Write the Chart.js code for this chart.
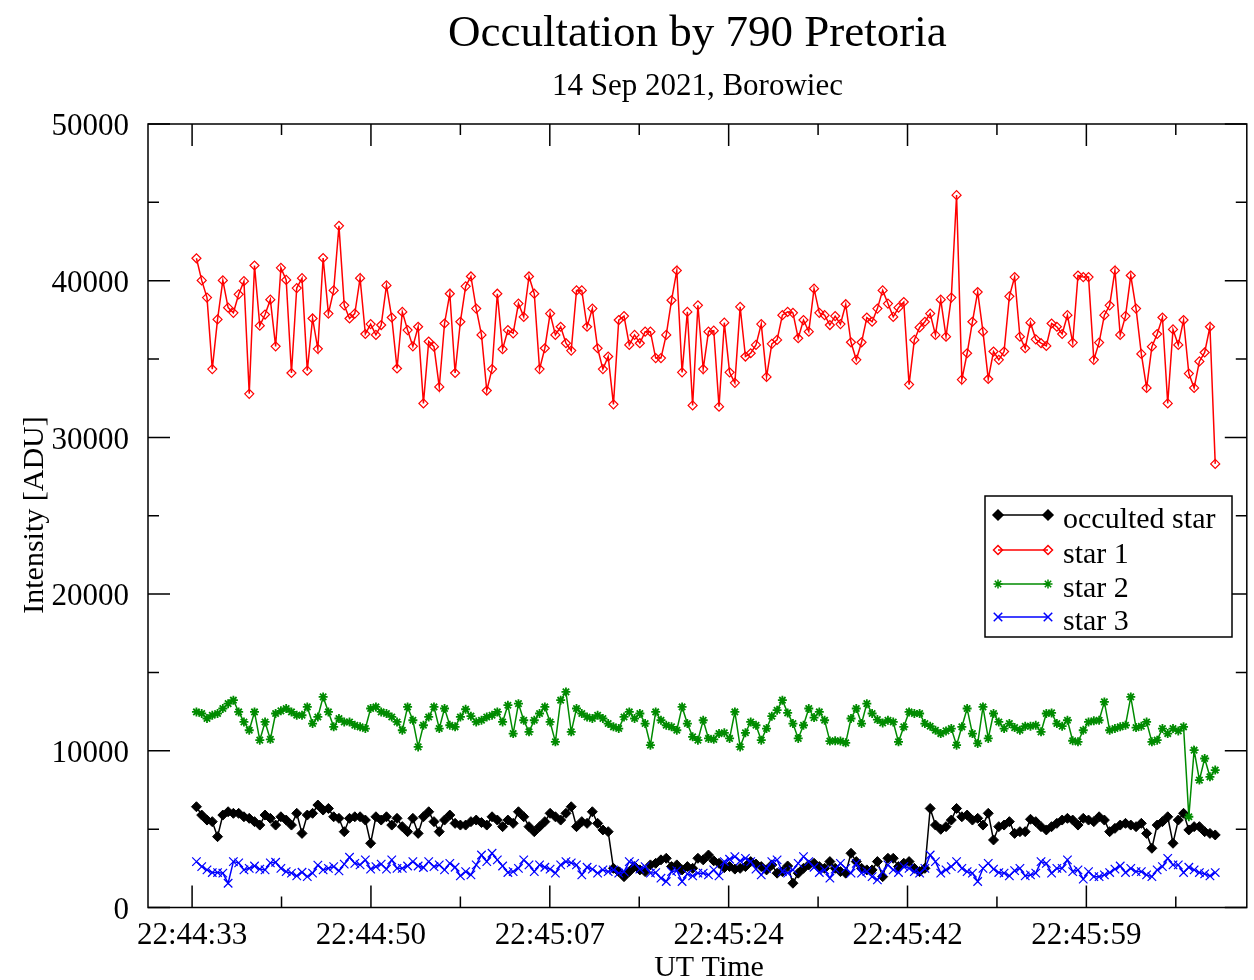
<!DOCTYPE html>
<html>
<head>
<meta charset="utf-8">
<script src="https://cdn.jsdelivr.net/npm/chart.js@4.4.1/dist/chart.umd.min.js"></script>
<style>
  html, body { margin: 0; padding: 0; background: #fff; }
</style>
</head>
<body>
<canvas id="myChart" width="1254" height="980"></canvas>
<script>
// time axis in UT seconds since midnight, one frame every ~0.51 s
var t0 = 81873.06;
var dt = 0.51;

var occulted = [
  6430, 5900, 5580, 5480, 4520, 5900, 6110, 6010, 6010, 5790,
  5690, 5480, 5260, 5900, 5690, 5260, 5790, 5580, 5260, 6010,
  4730, 5900, 6010, 6540, 6220, 6320, 5790, 5690, 4840, 5690,
  5790, 5790, 5580, 4100, 5790, 5580, 5790, 5260, 5690, 5160,
  4840, 5690, 4730, 5790, 6110, 5480, 4840, 5580, 5900, 5370,
  5260, 5260, 5480, 5580, 5420, 5260, 5790, 5580, 5160, 5580,
  5370, 6110, 5790, 5160, 4840, 5160, 5480, 6010, 5790, 5580,
  6010, 6430, 5160, 5480, 5370, 6110, 5370, 4950, 4840, 2500,
  2290, 1970, 2290, 2610, 2400, 2290, 2720, 2820, 3040, 3140,
  2610, 2720, 2400, 2610, 2500, 3140, 3040, 3350, 2980, 2820,
  2540, 2610, 2450, 2500, 2610, 2930, 2770, 2610, 2400, 2720,
  2190, 2290, 2650, 1550, 2190, 2500, 2720, 2820, 2610, 2500,
  2930, 2500, 2290, 2190, 3460, 2930, 2500, 2400, 2400, 2930,
  1970, 3140, 3140, 2610, 2820, 2930, 2500, 2290, 2500, 6320,
  5260, 4990, 5160, 5580, 6320, 5790, 5900, 5580, 5690, 5260,
  6010, 4310, 5160, 5260, 5480, 4730, 4840, 4840, 5630, 5480,
  5160, 4950, 5160, 5370, 5580, 5690, 5580, 5260, 5690, 5580,
  5480, 5790, 5580, 4840, 5050, 5260, 5370, 5260, 5160, 5370,
  4730, 3780, 5260, 5480, 5790, 4100, 5580, 6010, 4950, 5160,
  5160, 4840, 4730, 4630
];

var star1 = [
  41430, 40020, 38920, 34360, 37530, 40020, 38280, 37950, 39130, 39970,
  32780, 40970, 37130, 37840, 38790, 35810, 40820, 40050, 34110, 39530,
  40160, 34260, 37590, 35650, 41450, 37900, 39380, 43500, 38430, 37590,
  37900, 40160, 36600, 37230, 36540, 37170, 39700, 37650, 34400, 38010,
  36850, 35810, 37060, 32170, 36120, 35790, 33220, 37270, 39170, 34110,
  37380, 39640, 40270, 38220, 36540, 32990, 34360, 39170, 35630, 36850,
  36640, 38540, 37690, 40270, 39170, 34360, 35690, 37900, 36540, 37060,
  36010, 35540, 39380, 39380, 37060, 38220, 35690, 34360, 35160, 32110,
  37490, 37740, 35900, 36540, 36010, 36750, 36750, 35060, 35060, 36540,
  38750, 40650, 34150, 38010, 32040, 38430, 34360, 36750, 36810, 31960,
  37320, 34150, 33480, 38330, 35160, 35370, 35900, 37230, 33860, 35970,
  36220, 37800, 38010, 37950, 36330, 37490, 36750, 39490, 37950, 37800,
  37170, 37740, 37230, 38500, 36070, 34950, 36070, 37650, 37380, 38220,
  39380, 38540, 37690, 38280, 38640, 33370, 36220, 37020, 37380, 37900,
  36540, 38790, 36430, 38920, 45460, 33690, 35370, 37380, 39280, 36750,
  33730, 35480, 34950, 35480, 39000, 40230, 36430, 35690, 37320, 36260,
  36010, 35840, 37270, 37060, 36600, 37800, 36050, 40330, 40230, 40230,
  34950, 36050, 37800, 38430, 40650, 36540, 37740, 40330, 38220, 35330,
  33160, 35790, 36600, 37650, 32170, 36890, 35900, 37490, 34070, 33160,
  34850, 35420, 37060, 28310
];

var star2 = [
  12480, 12380, 12060, 12270, 12380, 12700, 13010, 13230, 12480, 11840,
  11310, 12480, 10680, 11840, 10730, 12380, 12550, 12700, 12480, 12270,
  12270, 12800, 11740, 12160, 13440, 12480, 11530, 12060, 11840, 11840,
  11630, 11530, 11420, 12700, 12800, 12480, 12380, 12160, 11840, 11310,
  12800, 11950, 10250, 11630, 12160, 12800, 11420, 12700, 11630, 11530,
  12160, 12650, 12210, 11840, 11950, 12160, 12270, 12480, 11840, 12910,
  11100, 13010, 11950, 11210, 11950, 12380, 12800, 11840, 10570, 13230,
  13760, 11210, 12700, 12380, 12160, 12060, 12270, 12060, 11740, 11530,
  11420, 12160, 12480, 12060, 12380, 11740, 10360, 12480, 11950, 11630,
  11530, 11310, 12800, 11740, 10890, 10680, 11950, 10790, 10730, 11100,
  11150, 10790, 12480, 10250, 11150, 11840, 11630, 10680, 11420, 12210,
  12590, 13230, 12420, 11740, 10790, 11630, 12700, 12120, 12480, 11950,
  10620, 10640, 10620, 10510, 12060, 12700, 11740, 13010, 12380, 11990,
  11780, 11950, 11840, 10570, 11530, 12480, 12380, 12380, 11740, 11570,
  11310, 11100, 11270, 11420, 10360, 11530, 12700, 11100, 10470, 12800,
  10790, 12380, 11840, 11420, 11740, 11480, 11310, 11570, 11570, 11630,
  11210, 12380, 12420, 11740, 11570, 11950, 10640, 10570, 11310, 11840,
  11910, 11950, 13120, 11310, 11420, 11530, 11630, 13440, 11480, 11570,
  11840, 10570, 10680, 11420, 11100, 11420, 11270, 11530, 5790, 10040,
  8130, 9510, 8340, 8770
];

var star3 = [
  2930, 2610, 2400, 2230, 2230, 2190, 1550, 2930, 2850, 2400,
  2500, 2650, 2450, 2400, 2850, 2890, 2500, 2290, 2190, 2020,
  2250, 1970, 2190, 2700, 2400, 2500, 2610, 2340, 2770, 3210,
  2820, 2720, 3040, 2450, 2610, 2770, 2450, 3040, 2500, 2500,
  2650, 2930, 2650, 2550, 2930, 2610, 2720, 2400, 2820, 2570,
  2020, 2290, 2080, 2720, 3350, 2930, 3460, 3040, 2650, 2230,
  2290, 2500, 3040, 2720, 2290, 2720, 2570, 2450, 2190, 2720,
  2930, 2850, 2720, 2080, 2570, 2450, 2190, 2400, 2290, 2400,
  2190, 2290, 2930, 2820, 2450, 2610, 2190, 2230, 1870, 1660,
  2290, 2350, 1660, 2150, 2020, 2190, 2190, 2080, 2400, 2020,
  2930, 3080, 3250, 2970, 3140, 2930, 2450, 2080, 2500, 2930,
  3040, 2290, 2190, 2400, 2820, 3250, 2930, 2570, 2230, 2400,
  1870, 2450, 2820, 2500, 2190, 2820, 2190, 2290, 1970, 1760,
  2290, 2720, 2400, 2230, 2610, 2500, 2290, 2190, 2500, 3350,
  2930, 2190, 2400, 2610, 2930, 2500, 2290, 2190, 1660, 2500,
  2820, 2450, 2230, 2190, 2020, 2350, 2500, 2020, 2080, 2190,
  2930, 2820, 2190, 2500, 2500, 3040, 2290, 2400, 1810, 2290,
  1970, 1970, 2080, 2230, 2450, 2650, 2230, 2500, 2290, 2290,
  2080, 1970, 2400, 2610, 3140, 2720, 2720, 2230, 2570, 2400,
  2230, 2150, 2020, 2230
];

// axis ticks (x ticks every 0.0002 day = 17.28 s)
var yTicks = [0, 10000, 20000, 30000, 40000, 50000];
var yMinor = [5000, 15000, 25000, 35000, 45000];
var xTicks = [81872.64, 81889.92, 81907.2, 81924.48, 81941.76, 81959.04];
var xMinor = [81881.28, 81898.56, 81915.84, 81933.12, 81950.4, 81967.68];

var times = star1.map(function (v, i) { return t0 + i * dt; });
function pts(arr) {
  return arr.map(function (v, i) { return { x: times[i], y: v }; });
}

function hms(s) {
  s = Math.round(s);
  var h = Math.floor(s / 3600), m = Math.floor((s % 3600) / 60), sec = s % 60;
  return [h, m, sec].map(function (n) { return (n < 10 ? '0' : '') + n; }).join(':');
}

var serif = '"Liberation Serif", "DejaVu Serif", serif';
var green = '#008b00';

function marker(ctx, style, x, y, r, color, fill) {
  ctx.strokeStyle = color;
  ctx.fillStyle = fill;
  ctx.beginPath();
  if (style === 'rectRot') {
    ctx.moveTo(x - r, y); ctx.lineTo(x, y - r); ctx.lineTo(x + r, y); ctx.lineTo(x, y + r);
    ctx.closePath();
    ctx.fill();
  } else if (style === 'star') {
    var d = r * Math.SQRT1_2;
    ctx.moveTo(x - r, y); ctx.lineTo(x + r, y); ctx.moveTo(x, y - r); ctx.lineTo(x, y + r);
    ctx.moveTo(x - d, y - d); ctx.lineTo(x + d, y + d); ctx.moveTo(x - d, y + d); ctx.lineTo(x + d, y - d);
  } else {
    var c = r * Math.SQRT1_2;
    ctx.moveTo(x - c, y - c); ctx.lineTo(x + c, y + c); ctx.moveTo(x - c, y + c); ctx.lineTo(x + c, y - c);
  }
  ctx.stroke();
}

var decor = {
  id: 'decor',
  afterDraw: function (chart) {
    var ctx = chart.ctx, a = chart.chartArea;
    var xs = chart.scales.x, ys = chart.scales.y;
    ctx.save();
    ctx.strokeStyle = '#000';
    ctx.lineWidth = 1.5;
    ctx.strokeRect(a.left, a.top, a.right - a.left, a.bottom - a.top);

    ctx.beginPath();
    function xt(vals, len) {
      vals.forEach(function (v) {
        var p = xs.getPixelForValue(v);
        ctx.moveTo(p, a.bottom); ctx.lineTo(p, a.bottom - len);
        ctx.moveTo(p, a.top); ctx.lineTo(p, a.top + len);
      });
    }
    function yt(vals, len) {
      vals.forEach(function (v) {
        var p = ys.getPixelForValue(v);
        ctx.moveTo(a.left, p); ctx.lineTo(a.left + len, p);
        ctx.moveTo(a.right, p); ctx.lineTo(a.right - len, p);
      });
    }
    xt(xTicks, 22); xt(xMinor, 11);
    yt(yTicks, 22); yt(yMinor, 11);
    ctx.stroke();

    // titles
    var cx = (a.left + a.right) / 2;
    ctx.fillStyle = '#000';
    ctx.textAlign = 'center';
    ctx.textBaseline = 'alphabetic';
    ctx.font = '45px ' + serif;
    ctx.fillText('Occultation by 790 Pretoria', cx, 46);
    ctx.font = '31px ' + serif;
    ctx.fillText('14 Sep 2021, Borowiec', cx, 95);
    ctx.font = '30px ' + serif;
    ctx.fillText('UT Time', 709, 976);
    ctx.save();
    ctx.translate(43, 515);
    ctx.rotate(-Math.PI / 2);
    ctx.fillText('Intensity [ADU]', 0, 0);
    ctx.restore();

    // legend
    var bx = 985, by = 496, bw = 247, bh = 141;
    ctx.fillStyle = '#fff';
    ctx.fillRect(bx, by, bw, bh);
    ctx.strokeStyle = '#000';
    ctx.lineWidth = 1.5;
    ctx.strokeRect(bx, by, bw, bh);
    var rows = [515, 550, 584, 617];
    chart.data.datasets.forEach(function (ds, i) {
      var y = rows[i];
      ctx.lineWidth = 1.5;
      ctx.strokeStyle = ds.borderColor;
      ctx.beginPath();
      ctx.moveTo(998, y); ctx.lineTo(1048, y);
      ctx.stroke();
      var fill = ds.pointBackgroundColor;
      marker(ctx, ds.pointStyle, 998, y, ds.pointRadius, ds.borderColor, fill);
      marker(ctx, ds.pointStyle, 1048, y, ds.pointRadius, ds.borderColor, fill);
      ctx.fillStyle = '#000';
      ctx.textAlign = 'left';
      ctx.font = '30px ' + serif;
      ctx.fillText(ds.label, 1063, y + 13);
    });
    ctx.restore();
  }
};

var ctx = document.getElementById('myChart').getContext('2d');

var data = {
  datasets: [
    {
      label: 'occulted star',
      data: pts(occulted),
      borderColor: '#000000',
      backgroundColor: '#000000',
      pointBackgroundColor: '#000000',
      pointStyle: 'rectRot',
      pointRadius: 5,
      pointBorderWidth: 1,
      borderWidth: 1.5,
      order: 4
    },
    {
      label: 'star 1',
      data: pts(star1),
      borderColor: '#ff0000',
      backgroundColor: '#ff0000',
      pointBackgroundColor: 'rgba(255,255,255,0)',
      pointStyle: 'rectRot',
      pointRadius: 4.5,
      pointBorderWidth: 1.2,
      borderWidth: 1.5,
      order: 3
    },
    {
      label: 'star 2',
      data: pts(star2),
      borderColor: green,
      backgroundColor: green,
      pointBackgroundColor: green,
      pointStyle: 'star',
      pointRadius: 4.5,
      pointBorderWidth: 1.8,
      borderWidth: 1.5,
      order: 2
    },
    {
      label: 'star 3',
      data: pts(star3),
      borderColor: '#0000ff',
      backgroundColor: '#0000ff',
      pointBackgroundColor: '#0000ff',
      pointStyle: 'crossRot',
      pointRadius: 6,
      pointBorderWidth: 1.2,
      borderWidth: 1.5,
      order: 1
    }
  ]
};

var options = {
  responsive: false,
  animation: false,
  devicePixelRatio: 1,
  layout: { padding: { top: 124, right: -3, left: 0, bottom: 0 } },
  elements: { line: { tension: 0 } },
  plugins: {
    legend: { display: false },
    title: { display: false },
    tooltip: { enabled: false }
  },
  scales: {
    x: {
      type: 'linear',
      min: 81868.38,
      max: 81974.54,
      grid: { display: false },
      border: { display: false },
      afterBuildTicks: function (scale) {
        scale.ticks = xTicks.map(function (v) { return { value: v }; });
      },
      afterFit: function (scale) { scale.height = 72.5; },
      ticks: {
        autoSkip: false,
        maxRotation: 0,
        padding: 2,
        color: '#000',
        font: { family: serif, size: 31 },
        callback: function (v) { return hms(v); }
      }
    },
    y: {
      min: 0,
      max: 50000,
      grid: { display: false },
      border: { display: false },
      afterBuildTicks: function (scale) {
        scale.ticks = yTicks.map(function (v) { return { value: v }; });
      },
      afterFit: function (scale) { scale.width = 148; },
      ticks: {
        padding: 11,
        labelOffset: 3,
        color: '#000',
        font: { family: serif, size: 31 },
        callback: function (v) { return String(v); }
      }
    }
  }
};

var chart = new Chart(ctx, {
  type: 'line',
  data: data,
  options: options,
  plugins: [decor]
});
</script>
</body>
</html>
